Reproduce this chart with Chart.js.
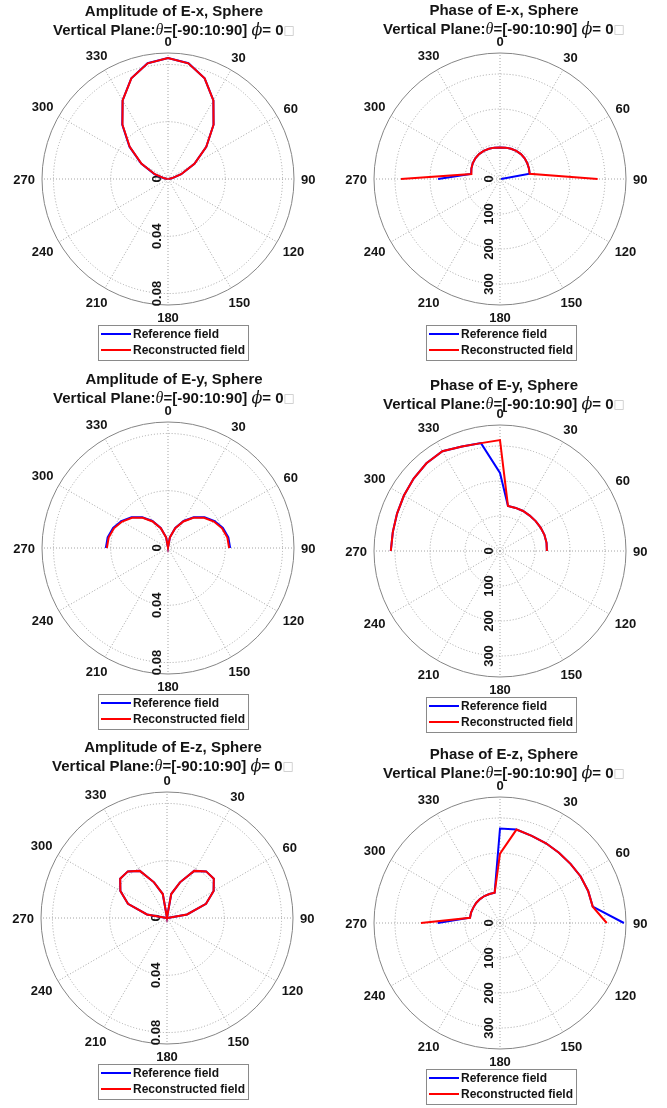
<!DOCTYPE html>
<html>
<head>
<meta charset="utf-8">
<script src="https://cdn.jsdelivr.net/npm/chart.js@4.4.1/dist/chart.umd.min.js"></script>
<style>
  body { margin: 0; background: #fff; }
  #fig { position: relative; width: 667px; height: 1108px; overflow: hidden; }
  #fig canvas { position: absolute; }
</style>
</head>
<body>
<div id="fig">
  <canvas id="ampX" width="333" height="369" style="left:0;top:0"></canvas>
  <canvas id="phaseX" width="334" height="369" style="left:333px;top:0"></canvas>
  <canvas id="ampY" width="333" height="369" style="left:0;top:369px"></canvas>
  <canvas id="phaseY" width="334" height="366" style="left:333px;top:372px"></canvas>
  <canvas id="ampZ" width="333" height="369" style="left:0;top:739px"></canvas>
  <canvas id="phaseZ" width="334" height="364" style="left:333px;top:744px"></canvas>
</div>
<script>
// sample angles (deg), theta = -90:10:90
const theta = [-90, -80, -70, -60, -50, -40, -30, -20, -10, 0, 10, 20, 30, 40, 50, 60, 70, 80, 90];
const angleTicks = [0, 30, 60, 90, 120, 150, 180, 210, 240, 270, 300, 330];
const ampTicks = [0, 0.04, 0.08];
const ampMax = 0.088;
const phaseTicks = [0, 100, 200, 300];
const phaseMax = 360;

// amplitude values
const ampXRef = [0.0004, 0.0029, 0.0101, 0.0216, 0.0351, 0.0497, 0.0634, 0.0749, 0.0821, 0.0845, 0.0821, 0.0748, 0.0634, 0.0495, 0.0349, 0.0213, 0.0098, 0.0027, 0.0004];
const ampXRec = [0.0002, 0.0026, 0.0098, 0.0213, 0.0349, 0.0495, 0.0634, 0.0748, 0.082, 0.0845, 0.082, 0.0748, 0.0634, 0.0495, 0.0349, 0.0213, 0.0098, 0.0026, 0.0002];
const ampYRef = [0.0434, 0.0428, 0.0408, 0.0376, 0.0333, 0.028, 0.0218, 0.0149, 0.0076, 0.0003, 0.0076, 0.0149, 0.0218, 0.028, 0.0333, 0.0376, 0.0408, 0.0428, 0.0434];
const ampYRec = [0.0427, 0.0421, 0.0402, 0.037, 0.0328, 0.0275, 0.0214, 0.0147, 0.0075, 0.0002, 0.0075, 0.0147, 0.0214, 0.0275, 0.0328, 0.037, 0.0402, 0.0421, 0.0427];
const ampZRef = [0.0003, 0.0142, 0.029, 0.0376, 0.0427, 0.0425, 0.038, 0.0265, 0.017, 0.0003, 0.017, 0.0265, 0.038, 0.0425, 0.0427, 0.0376, 0.029, 0.0142, 0.0003];
const ampZRec = [0.0003, 0.0142, 0.029, 0.0376, 0.0427, 0.0425, 0.038, 0.0265, 0.017, 0.0003, 0.017, 0.0265, 0.038, 0.0425, 0.0427, 0.0376, 0.029, 0.0142, 0.0003];

// phase values (deg)
const phaseXRef = [177, 84, 87, 90, 92, 93, 93, 92, 91, 90, 91, 92, 93, 93, 92, 90, 88, 86, 3];
const phaseXRec = [283, 83, 87, 90, 92, 93, 93, 92, 91, 90, 91, 92, 93, 93, 92, 90, 88, 86, 279];
const phaseYRef = [312, 311, 313, 317, 322, 327, 329, 318, 313, 223, 131, 131, 132, 132, 133, 134, 135, 135, 134];
const phaseYRec = [312, 311, 313, 317, 322, 327, 329, 318, 313, 317, 131, 131, 132, 132, 133, 134, 135, 135, 134];
const phaseZRef = [178, 87, 88, 88, 89, 89, 89, 88, 88, 270, 271, 265, 263, 262, 263, 266, 268, 269, 354];
const phaseZRec = [226, 87, 88, 88, 89, 89, 89, 88, 88, 198, 271, 265, 263, 262, 263, 266, 268, 269, 305];

const R = 126;
const boldFont = "'Liberation Sans', Arial, sans-serif";
const textColor = '#141414';
const gridColor = '#a4a4a4';

// radar slots every 10 deg, clockwise from top
const slotLabels = [];
for (let a = 0; a < 360; a += 10) slotLabels.push(String(a));

function toSlots(values) {
    const out = slotLabels.map(() => null);
    theta.forEach((t, i) => { out[((t / 10) + 36) % 36] = values[i]; });
    return out;
}

// titles, angle labels, rotated r labels and legend box
const polarDecor = {
    id: 'polarDecor',
    beforeDatasetsDraw(chart) {
        const s = chart.scales.r;
        const o = chart.options.plugins.polarDecor;
        const ctx = chart.ctx;
        ctx.save();
        ctx.fillStyle = textColor;
        ctx.font = 'bold 13px ' + boldFont;
        ctx.textAlign = 'center';
        ctx.textBaseline = 'middle';
        o.rTicks.forEach(v => {
            const d = s.getDistanceFromCenterForValue(v);
            ctx.save();
            ctx.translate(s.xCenter - 12, s.yCenter + d);
            ctx.rotate(-Math.PI / 2);
            ctx.fillText(String(v), 0, 1);
            ctx.restore();
        });
        ctx.restore();
    },
    afterDraw(chart) {
        const s = chart.scales.r;
        const o = chart.options.plugins.polarDecor;
        const ctx = chart.ctx;
        ctx.save();
        ctx.fillStyle = textColor;
        ctx.textBaseline = 'middle';
        ctx.textAlign = 'center';

        // angle labels
        ctx.font = 'bold 13px ' + boldFont;
        angleTicks.forEach(a => {
            const w = ctx.measureText(String(a)).width;
            const rad = a * Math.PI / 180;
            const ext = Math.abs(Math.sin(rad)) * w / 2 + Math.abs(Math.cos(rad)) * 5;
            const p = s.getPointPosition(a / 10, s.drawingArea + 7 + ext);
            ctx.fillText(String(a), p.x, p.y + 1);
        });

        // title
        const ty = s.yCenter - o.titleDy;
        ctx.font = 'bold 15px ' + boldFont;
        ctx.fillText(o.title, o.titleX, ty);
        const parts = [
            {t: 'Vertical Plane:', f: 'bold 15px ' + boldFont},
            {t: '\u03b8', f: "italic 16px 'Liberation Serif', 'DejaVu Serif', serif"},
            {t: '=[-90:10:90] ', f: 'bold 15px ' + boldFont},
            {t: '\u03d5', f: "italic 16px 'DejaVu Serif', serif"},
            {t: '= 0', f: 'bold 15px ' + boldFont},
            {t: '\u25a1', f: "12px 'DejaVu Sans', sans-serif", c: '#c4c4c4'}
        ];
        let total = 0;
        parts.forEach(p => { ctx.font = p.f; p.w = ctx.measureText(p.t).width; total += p.w; });
        let x = o.titleX - total / 2;
        ctx.textAlign = 'left';
        parts.forEach(p => {
            ctx.font = p.f;
            ctx.fillStyle = p.c || textColor;
            ctx.fillText(p.t, x, ty + 19);
            x += p.w;
        });

        // legend
        ctx.font = 'bold 12px ' + boldFont;
        const ds = chart.data.datasets;
        const tw = Math.max(...ds.map(d => ctx.measureText(d.label).width));
        const bw = 35 + tw + 3, bh = 35;
        const bx = o.legendX - bw / 2, by = s.yCenter + 146;
        ctx.fillStyle = '#fff';
        ctx.fillRect(bx, by, bw, bh);
        ctx.strokeStyle = '#8a8a8a';
        ctx.lineWidth = 1;
        ctx.strokeRect(bx + 0.5, by + 0.5, bw, bh);
        ds.forEach((d, i) => {
            const ly = by + 9 + i * 16;
            ctx.strokeStyle = d.borderColor;
            ctx.lineWidth = 2;
            ctx.beginPath();
            ctx.moveTo(bx + 3, ly);
            ctx.lineTo(bx + 33, ly);
            ctx.stroke();
            ctx.fillStyle = textColor;
            ctx.fillText(d.label, bx + 35, ly + 1);
        });
        ctx.restore();
    }
};

function makePolar(id, cx, title, titleX, titleDy, legendX, rTicks, rMax, ref, rec) {
    const el = document.getElementById(id);
    const W = el.width, H = el.height, cy = 179;
    const allTicks = rTicks.concat([rMax]);
    const last = allTicks.length - 1;
    return new Chart(el, {
        type: 'radar',
        data: {
            labels: slotLabels,
            datasets: [{
                label: 'Reference field',
                data: toSlots(ref),
                borderColor: '#0000ff',
                order: 1
            }, {
                label: 'Reconstructed field',
                data: toSlots(rec),
                borderColor: '#ff0000',
                order: 0
            }]
        },
        options: {
            responsive: false,
            animation: false,
            events: [],
            layout: {
                padding: { left: cx - R, right: W - cx - R, top: cy - R, bottom: H - cy - R }
            },
            elements: {
                point: { radius: 0 },
                line: { tension: 0, borderWidth: 2, fill: false }
            },
            plugins: {
                legend: { display: false },
                title: { display: false },
                tooltip: { enabled: false },
                polarDecor: { title: title, titleX: titleX, titleDy: titleDy, legendX: legendX, rTicks: rTicks }
            },
            scales: {
                r: {
                    min: 0,
                    max: rMax,
                    afterBuildTicks: axis => { axis.ticks = allTicks.map(v => ({ value: v })); },
                    ticks: { display: false },
                    pointLabels: { display: false },
                    grid: {
                        circular: true,
                        color: c => c.index === last ? '#858585' : gridColor,
                        lineWidth: 1
                    },
                    border: { dash: c => c.index === last ? [] : [1, 2] },
                    angleLines: {
                        color: c => c.index % 3 === 0 ? gridColor : 'rgba(0,0,0,0)',
                        lineWidth: c => c.index % 3 === 0 ? 1 : 0,
                        borderDash: [1, 2]
                    }
                }
            }
        },
        plugins: [polarDecor]
    });
}

document.addEventListener('DOMContentLoaded', function() {
    makePolar('ampX', 168, 'Amplitude of E-x, Sphere', 174, 167, 173, ampTicks, ampMax, ampXRef, ampXRec);
    makePolar('phaseX', 167, 'Phase of E-x, Sphere', 171, 168, 168, phaseTicks, phaseMax, phaseXRef, phaseXRec);
    makePolar('ampY', 168, 'Amplitude of E-y, Sphere', 174, 168, 173, ampTicks, ampMax, ampYRef, ampYRec);
    makePolar('phaseY', 167, 'Phase of E-y, Sphere', 171, 165, 168, phaseTicks, phaseMax, phaseYRef, phaseYRec);
    makePolar('ampZ', 167, 'Amplitude of E-z, Sphere', 173, 170, 173, ampTicks, ampMax, ampZRef, ampZRec);
    makePolar('phaseZ', 167, 'Phase of E-z, Sphere', 171, 168, 168, phaseTicks, phaseMax, phaseZRef, phaseZRec);
});
</script>
</body>
</html>
